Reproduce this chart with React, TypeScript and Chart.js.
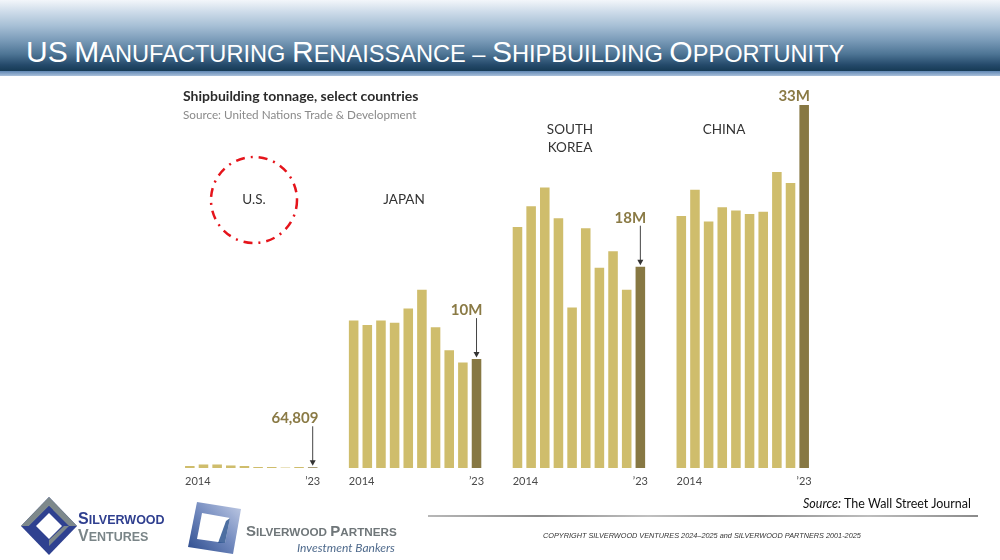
import React, { useEffect, useRef } from 'react';
import { Chart, registerables } from 'chart.js';

Chart.register(...registerables);

// ---------- data ----------
const countries = ['U.S.', 'JAPAN', 'SOUTH KOREA', 'CHINA'];
const years = ['2014', '2015', '2016', '2017', '2018', '2019', '2020', '2021', '2022', '2023'];
// shipbuilding tonnage, millions of gross tons
const usTonnage = [0.18, 0.32, 0.32, 0.23, 0.18, 0.09, 0.09, 0.04, 0.09, 0.065];
const japanTonnage = [13.4, 13.0, 13.4, 13.2, 14.5, 16.2, 12.8, 10.7, 9.6, 9.9];
const koreaTonnage = [21.9, 23.8, 25.5, 22.7, 14.6, 21.8, 18.2, 19.7, 16.2, 18.3];
const chinaTonnage = [22.9, 25.3, 22.4, 23.7, 23.4, 23.1, 23.3, 26.9, 25.9, 33.0];
const callouts = ['64,809', '10M', '18M', '33M'];
const tickLabels = ['2014', '\u201923'];

const GAP = 2;
const LIGHT = '#cfbd6c';
const DARK = '#877843';
const LABEL_GOLD = '#8a7a45';

const groups = [usTonnage, japanTonnage, koreaTonnage, chinaTonnage];
const labels: string[] = [];
const values: (number | null)[] = [];
const colors: string[] = [];
const firstIdx: number[] = [];
const lastIdx: number[] = [];
groups.forEach((g, gi) => {
  if (gi > 0) {
    for (let k = 0; k < GAP; k++) {
      labels.push(`gap-${gi}-${k}`);
      values.push(null);
      colors.push('rgba(0,0,0,0)');
    }
  }
  g.forEach((v, i) => {
    if (i === 0) firstIdx.push(labels.length);
    if (i === g.length - 1) lastIdx.push(labels.length);
    labels.push(`${countries[gi]} ${years[i]}`);
    values.push(v);
    colors.push(i === g.length - 1 ? DARK : LIGHT);
  });
});

const FONT = 'Lato, "Noto Sans", sans-serif';

const overlayPlugin = {
  id: 'overlay',
  afterDatasetsDraw(chart: any) {
    const ctx = chart.ctx as CanvasRenderingContext2D;
    const meta = chart.getDatasetMeta(0);
    ctx.save();

    // title + subtitle
    ctx.textBaseline = 'middle';
    ctx.textAlign = 'left';
    ctx.fillStyle = '#2b2b2b';
    ctx.font = `bold 14px ${FONT}`;
    ctx.fillText('Shipbuilding tonnage, select countries', 183, 96);
    ctx.fillStyle = '#8a8a8a';
    ctx.font = `11.7px ${FONT}`;
    ctx.fillText('Source: United Nations Trade & Development', 183, 115);

    // country labels
    ctx.fillStyle = '#333333';
    ctx.font = `13.5px ${FONT}`;
    ctx.textAlign = 'center';
    ctx.fillText(countries[0], 254, 200);
    ctx.fillText(countries[1], 404, 200);
    const sk = countries[2].split(' ');
    ctx.fillText(sk[0], 570, 130);
    ctx.fillText(sk[1], 570, 148);
    ctx.fillText(countries[3], 724, 130);

    // red dash-dot circle around U.S.
    ctx.beginPath();
    ctx.strokeStyle = '#e5141b';
    ctx.lineWidth = 2.5;
    ctx.setLineDash([9, 6, 2, 6]);
    ctx.arc(254, 200, 43, 0, Math.PI * 2);
    ctx.stroke();
    ctx.setLineDash([]);

    // year tick labels
    ctx.fillStyle = '#4a4a4a';
    ctx.font = `11px ${FONT}`;
    for (let gi = 0; gi < groups.length; gi++) {
      const f = meta.data[firstIdx[gi]];
      const l = meta.data[lastIdx[gi]];
      ctx.textAlign = 'left';
      ctx.fillText(tickLabels[0], f.x - f.width / 2, 481);
      ctx.textAlign = 'center';
      ctx.fillText(tickLabels[1], l.x, 481);
    }

    // callouts
    for (let gi = 0; gi < groups.length; gi++) {
      const b = meta.data[lastIdx[gi]];
      const right = b.x + b.width / 2 + 1;
      const top = b.y;
      ctx.fillStyle = LABEL_GOLD;
      ctx.font = `bold 15px ${FONT}`;
      ctx.textAlign = 'right';
      if (gi === groups.length - 1) {
        ctx.fillText(callouts[gi], right, top - 9);
      } else {
        ctx.fillText(callouts[gi], right, top - 49);
        ctx.strokeStyle = '#444';
        ctx.lineWidth = 1;
        ctx.beginPath();
        ctx.moveTo(b.x, top - 41);
        ctx.lineTo(b.x, top - 6);
        ctx.stroke();
        ctx.fillStyle = '#333';
        ctx.beginPath();
        ctx.moveTo(b.x - 3, top - 7);
        ctx.lineTo(b.x + 3, top - 7);
        ctx.lineTo(b.x, top - 1.5);
        ctx.closePath();
        ctx.fill();
      }
    }
    ctx.restore();
  },
};

function ShipChart() {
  const ref = useRef<HTMLCanvasElement | null>(null);
  useEffect(() => {
    if (!ref.current) return;
    const chart = new Chart(ref.current, {
      type: 'bar',
      data: {
        labels,
        datasets: [
          {
            data: values,
            backgroundColor: colors,
            borderWidth: 0,
            barPercentage: 0.7,
            categoryPercentage: 1,
          },
        ],
      },
      options: {
        responsive: false,
        animation: false,
        devicePixelRatio: 1,
        layout: { padding: { left: 183, right: 189, top: 105, bottom: 92 } },
        plugins: { legend: { display: false }, tooltip: { enabled: false } },
        scales: {
          x: { display: false, grid: { display: false } },
          y: { display: false, min: 0, max: 33 },
        },
      },
      plugins: [overlayPlugin],
    } as any);
    return () => chart.destroy();
  }, []);
  return <canvas ref={ref} width={1000} height={560} style={{ position: 'absolute', left: 0, top: 0 }} />;
}

function SmallCaps({ text, big, small }: { text: string; big: number; small: number }) {
  const words = text.split(' ');
  return (
    <>
      {words.map((w, i) => {
        const first = w[0];
        const rest = w.slice(1);
        const isDash = w === '\u2013';
        return (
          <React.Fragment key={i}>
            {isDash ? (
              <span style={{ fontSize: small }}>{w}</span>
            ) : (
              <>
                <span style={{ fontSize: big }}>{first}</span>
                <span style={{ fontSize: /[a-z]/.test(rest) ? small : big }}>{rest.toUpperCase()}</span>
              </>
            )}
            {i < words.length - 1 ? <span style={{ fontSize: small }}> </span> : null}
          </React.Fragment>
        );
      })}
    </>
  );
}

function Header() {
  return (
    <>
      <div
        style={{
          position: 'absolute',
          left: 0,
          top: 0,
          width: 1000,
          height: 71,
          background:
            'linear-gradient(to bottom, #f3f6fa 0px, #cddbe9 12px, #a6bfd5 26px, #7b9cb9 40px, #4e7595 54px, #24496a 65px, #163a55 71px)',
        }}
      />
      <div
        style={{
          position: 'absolute',
          left: 0,
          top: 71,
          width: 1000,
          height: 5,
          background: 'linear-gradient(to bottom, #5f86b3, #a9c0da)',
        }}
      />
      <div
        style={{
          position: 'absolute',
          left: 26,
          top: 34,
          color: '#ffffff',
          fontFamily: '"Liberation Sans", Arial, sans-serif',
          whiteSpace: 'nowrap',
          lineHeight: '36px',
        }}
      >
        <SmallCaps text={'US Manufacturing Renaissance \u2013 Shipbuilding Opportunity'} big={30} small={23.6} />
      </div>
    </>
  );
}

function Footer() {
  return (
    <>
      {/* Silverwood Ventures logo */}
      <svg width={58} height={60} style={{ position: 'absolute', left: 20, top: 496 }} viewBox="0 0 58 60">
        <polygon points="29,1 57,30 29,59 1,30" fill="#2f4190" />
        <polygon points="29,1 57,30 49,30 29,10" fill="#7e898b" />
        <polygon points="29,1 29,10 9,30 1,30" fill="#7e898b" />
        <polygon points="9,30 29,10 33,14 14,30" fill="#2f4190" />
        <polygon points="49,30 29,50 29,44 44,30" fill="#7e898b" />
        <polygon points="29,17 42,30 29,43 16,30" fill="#ffffff" />
      </svg>
      <div
        style={{
          position: 'absolute',
          left: 78,
          top: 511,
          fontFamily: '"Liberation Sans", Arial, sans-serif',
          fontWeight: 'bold',
          lineHeight: '15px',
          whiteSpace: 'nowrap',
        }}
      >
        <div style={{ color: '#2f3f8f' }}>
          <span style={{ fontSize: 16 }}>S</span>
          <span style={{ fontSize: 12.5 }}>ILVERWOOD</span>
        </div>
        <div style={{ color: '#7a8588' }}>
          <span style={{ fontSize: 16 }}>V</span>
          <span style={{ fontSize: 12.5 }}>ENTURES</span>
        </div>
      </div>

      {/* Silverwood Partners logo */}
      <svg width={58} height={58} style={{ position: 'absolute', left: 185, top: 499 }} viewBox="0 0 58 58">
        <defs>
          <linearGradient id="pg" x1="1" y1="0" x2="0" y2="1">
            <stop offset="0" stopColor="#c3cde6" />
            <stop offset="0.5" stopColor="#7088bd" />
            <stop offset="1" stopColor="#2b4a8c" />
          </linearGradient>
        </defs>
        <polygon points="12,3 56,10 48,55 3,48" fill="url(#pg)" />
        <polygon points="17,14 45,19 40,44 12,40" fill="#ffffff" />
        <polygon points="45,19 40,44 33,44 41,22" fill="#1f4a8a" opacity="0.8" />
      </svg>
      <div
        style={{
          position: 'absolute',
          left: 246,
          top: 522,
          color: '#6f7679',
          fontFamily: '"Liberation Sans", Arial, sans-serif',
          fontWeight: 'bold',
          whiteSpace: 'nowrap',
          lineHeight: '18px',
        }}
      >
        <span style={{ fontSize: 15 }}>S</span>
        <span style={{ fontSize: 11.7 }}>ILVERWOOD </span>
        <span style={{ fontSize: 15 }}>P</span>
        <span style={{ fontSize: 11.7 }}>ARTNERS</span>
      </div>
      <div
        style={{
          position: 'absolute',
          left: 297,
          top: 540,
          color: '#4f6a8c',
          fontFamily: FONT,
          fontStyle: 'italic',
          fontSize: 12,
          whiteSpace: 'nowrap',
          lineHeight: '15px',
        }}
      >
        Investment Bankers
      </div>

      {/* source */}
      <div
        style={{
          position: 'absolute',
          right: 29,
          top: 496,
          color: '#111',
          fontFamily: FONT,
          fontSize: 12.5,
          whiteSpace: 'nowrap',
          lineHeight: '16px',
        }}
      >
        <i>Source:</i> The Wall Street Journal
      </div>
      <div
        style={{
          position: 'absolute',
          left: 428,
          top: 515,
          width: 550,
          height: 1.5,
          background: 'linear-gradient(to right, #b8b8b8, #8c8c8c 20%, #c0c0c0 40%, #8c8c8c 60%, #bdbdbd 80%, #8a8a8a)',
        }}
      />
      <div
        style={{
          position: 'absolute',
          left: 543,
          top: 531,
          color: '#333',
          fontFamily: '"Liberation Sans", Arial, sans-serif',
          fontStyle: 'italic',
          fontSize: 7.3,
          whiteSpace: 'nowrap',
          lineHeight: '10px',
        }}
      >
        COPYRIGHT SILVERWOOD VENTURES 2024{'\u2013'}2025 and SILVERWOOD PARTNERS 2001-2025
      </div>
    </>
  );
}

export default function App() {
  return (
    <div
      style={{
        position: 'absolute',
        left: 0,
        top: 0,
        width: 1000,
        height: 560,
        overflow: 'hidden',
        background: '#ffffff',
      }}
    >
      <ShipChart />
      <Header />
      <Footer />
    </div>
  );
}
